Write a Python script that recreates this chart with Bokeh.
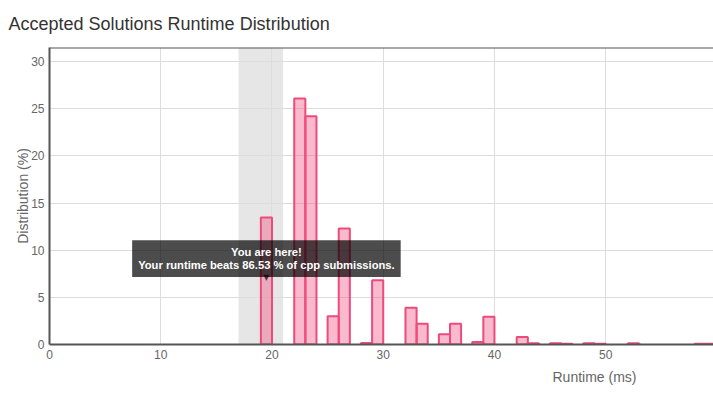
from bokeh.plotting import figure
from bokeh.models import Range1d, BoxAnnotation, Label, Title, Span, ColumnDataSource
from bokeh.embed import file_html
from bokeh.resources import INLINE

# ---- data ----
bin_start = [19, 22, 23, 25, 26, 28, 29, 32, 33, 35, 36, 38, 39, 42, 43, 45, 46, 48, 49, 52, 58, 59]
distribution = [13.47, 26.1, 24.2, 3.0, 12.3, 0.15, 6.82, 3.9, 2.2, 1.1, 2.2, 0.27, 2.95,
                0.8, 0.13, 0.13, 0.09, 0.13, 0.09, 0.13, 0.09, 0.09]
bin_width = 1
x_ticks = [0, 10, 20, 30, 40, 50, 60]
y_ticks = [0, 5, 10, 15, 20, 25, 30]
x_max = 59.69
y_max = 31.5
band_left, band_right = 17, 21
your_bin = 19
beats_pct = 86.53
lang = "cpp"

FONT = "Liberation Sans"
PINK = "#ef4a7c"

p = figure(width=713, height=398, output_backend="svg", toolbar_location=None,
           x_range=Range1d(0, x_max), y_range=Range1d(0, y_max),
           min_border_left=49, min_border_right=0, min_border_top=47, min_border_bottom=54)
p.outline_line_color = None
p.background_fill_color = "white"

p.title.text = "Accepted Solutions Runtime Distribution"
p.title.text_font = FONT
p.title.text_font_size = "18px"
p.title.text_font_style = "normal"
p.title.text_color = "#333333"
p.title.align = "left"
p.title.offset = -41
p.title.standoff = 24
p.title.vertical_align = "top"

band = BoxAnnotation(left=band_left, right=band_right, fill_color="#e6e6e6", fill_alpha=1.0,
                     line_alpha=0, level="image")
p.add_layout(band)

src = ColumnDataSource(dict(left=bin_start, right=[b + bin_width for b in bin_start],
                            top=distribution, bottom=[0] * len(bin_start)))
p.quad(left="left", right="right", top="top", bottom="bottom", source=src,
       fill_color=PINK, fill_alpha=0.38, line_color=PINK, line_width=2)

for ax in (p.xaxis, p.yaxis):
    ax.axis_line_color = "#555555"
    ax.axis_line_width = 2
    ax.major_tick_out = 0
    ax.major_tick_in = 0
    ax.minor_tick_out = 0
    ax.minor_tick_in = 0
    ax.major_label_text_font = FONT
    ax.major_label_text_font_size = "12px"
    ax.major_label_text_color = "#666666"
    ax.major_label_standoff = 5
    ax.axis_label_text_font = FONT
    ax.axis_label_text_font_size = "14px"
    ax.axis_label_text_font_style = "normal"
    ax.axis_label_text_color = "#666666"

p.xaxis.ticker = x_ticks
p.yaxis.ticker = y_ticks
p.yaxis.axis_label = "Distribution (%)"
p.yaxis.axis_label_standoff = -3

xlabel = Title(text="Runtime (ms)", align="left", offset=503, text_font=FONT,
               text_font_size="14px", text_font_style="normal", text_color="#666666", standoff=10)
p.add_layout(xlabel, "below")

p.xgrid.grid_line_color = "#dddddd"
p.ygrid.grid_line_color = "#dddddd"

p.add_layout(Span(location=y_max, dimension="width", line_color="#555555", line_width=2))

# tooltip
idx = bin_start.index(your_bin)
anchor_x = your_bin + bin_width / 2
anchor_y = distribution[idx] / 2
tip = Label(x=anchor_x, y=anchor_y, text=f"You are here!\nYour runtime beats {beats_pct} % of {lang} submissions.",
            text_align="center", text_baseline="bottom", y_offset=4, text_font=FONT,
            text_font_size="11.2px", text_font_style="bold", text_color="white", text_line_height=1.07,
            background_fill_color="black", background_fill_alpha=0.7, padding=6)
p.add_layout(tip)
caret = Label(x=anchor_x, y=anchor_y, text="\u25BC", text_align="center", text_baseline="bottom",
              y_offset=-1, text_font="DejaVu Sans", text_font_size="8px", text_color="black",
              text_alpha=0.7)
p.add_layout(caret)

open("out.html", "w").write(file_html(p, INLINE))
